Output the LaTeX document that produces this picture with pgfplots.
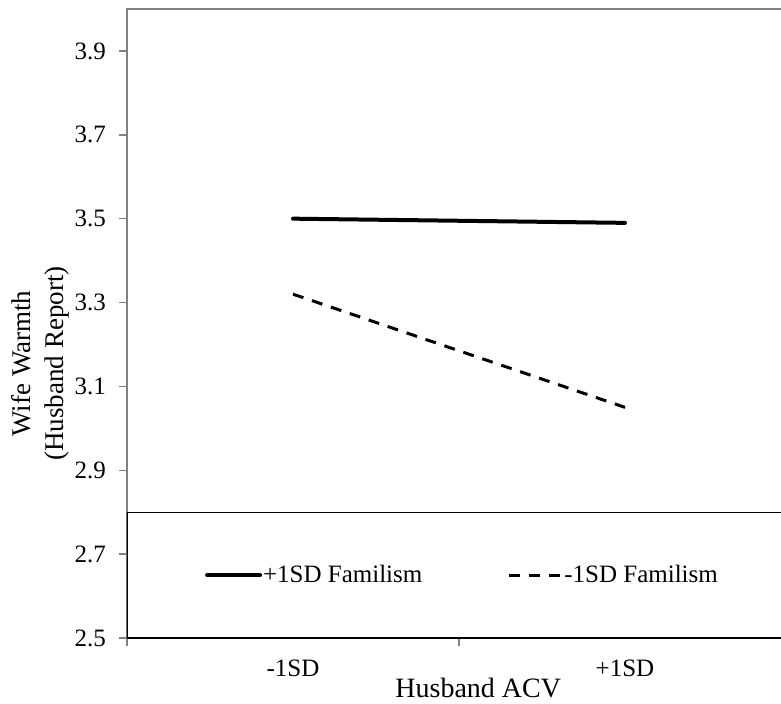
\documentclass[border=0pt]{standalone}
\usepackage{fontspec}
\setmainfont{Liberation Serif}
\usepackage{pgfplots}
\pgfplotsset{compat=1.18}

\begin{document}
\begin{tikzpicture}
\begin{axis}[
    scale only axis,
    width=332pt,
    height=314.5pt,
    xmin=0, xmax=2,
    ymin=2.5, ymax=4.0,
    xtick={0,1,2},
    xticklabels={-1SD,+1SD},
    x tick label as interval,
    ytick={2.5,2.7,2.9,3.1,3.3,3.5,3.7,3.9},
    xtick pos=bottom, ytick pos=left,
    tick align=outside,
    major tick length=4pt,
    axis line style={gray, line width=0.75pt},
    tick style={gray, line width=0.75pt},
    /pgf/number format/assume math mode=true,
    yticklabel style={/pgf/number format/fixed, /pgf/number format/precision=1,
        /pgf/number format/fixed zerofill, xshift=-3pt},
    xticklabel style={yshift=-3.5pt},
    tick label style={font=\fontsize{12.5}{15}\selectfont},
    xlabel={Husband ACV},
    every axis x label/.style={at={(rel axis cs:0.529,0)}, anchor=center, yshift=-25pt,
        font=\fontsize{14}{16}\selectfont},
    ylabel={Wife Warmth\\(Husband Report)},
    ylabel style={align=center, font=\fontsize{13.5}{16.5}\selectfont, xshift=-20pt, yshift=-4pt},
    legend columns=2,
    legend style={at={(axis cs:1.009,2.65)}, anchor=center, draw=none, fill=none,
        font=\fontsize{12.5}{15}\selectfont, inner sep=0pt,
        nodes={inner xsep=0.5pt},
        /tikz/every even column/.append style={column sep=42pt},
        /tikz/every odd column/.append style={column sep=0pt}},
    legend cell align=left,
    legend image code/.code={\draw[#1] (0pt,0pt) -- (26.5pt,0pt);},
]
\coordinate (O) at (rel axis cs:0,0);
\draw[black, line width=0.6pt, fill=white] (axis cs:0,2.5) rectangle (axis cs:2,2.8);

\addplot[black, line width=2pt, line cap=round] coordinates {(0.5,3.50) (1.5,3.49)};
\addlegendentry{+1SD Familism}
\addplot[black, line width=1.5pt, dash pattern=on 5.5pt off 4.5pt] coordinates {(0.5,3.32) (1.5,3.05)};
\addlegendentry{-1SD Familism}
\end{axis}
\pgfresetboundingbox
\path[use as bounding box] ([shift={(-63.5pt,-32.5pt)}]O) rectangle ([shift={(327pt,319pt)}]O);
\end{tikzpicture}
\end{document}
